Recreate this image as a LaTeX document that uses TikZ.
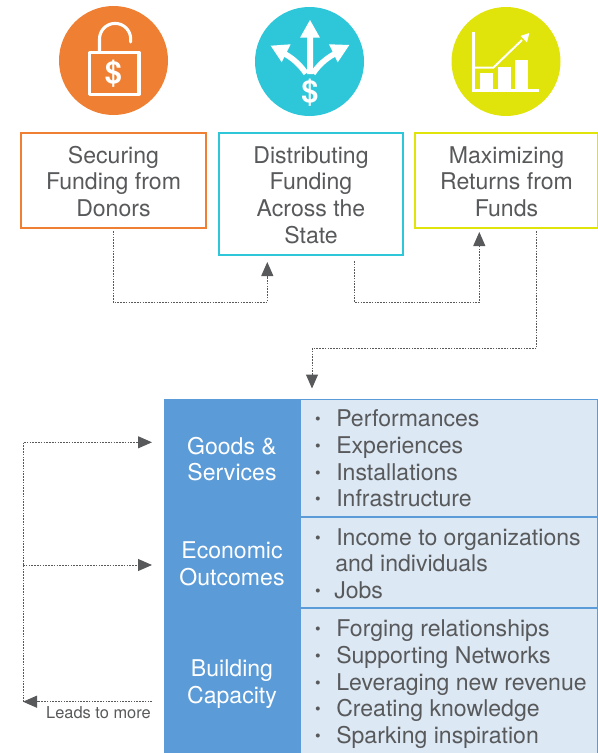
\documentclass[tikz,border=0pt]{standalone}
\usepackage{fontspec}
\setmainfont{TeX Gyre Heros}
\usetikzlibrary{arrows.meta}
\definecolor{ink}{HTML}{58595B}
\definecolor{orangeC}{HTML}{EF8033}
\definecolor{cyanC}{HTML}{2EC7D9}
\definecolor{limeC}{HTML}{E0E40A}
\definecolor{blueC}{HTML}{5B9BD8}
\definecolor{paleC}{HTML}{DCE8F4}
\tikzset{
  big/.style={font=\fontsize{17.3}{19.9}\selectfont, text=ink, align=center, inner sep=0pt},
  stagebox/.style={anchor=north west, big, outer sep=0pt, yshift=-0.75pt},
  edge1/.style={line width=0.8pt},
  hdr/.style={font=\fontsize{17.3}{20}\selectfont, text=white, align=center, inner sep=0pt},
  item/.style={font=\fontsize{17.3}{20}\selectfont, text=ink, anchor=base west, inner sep=0pt},
  bul/.style={font=\fontsize{12}{12}\selectfont, text=ink, anchor=base, inner sep=0pt},
  conn/.style={draw=ink, line width=0.75pt, dash pattern=on 1.2pt off 0.9pt},
  tip/.style={-{Triangle[length=10.5pt,width=9pt,color=ink,fill=ink]}},
  icon/.style={draw=white, line width=2.3pt},
  iconthin/.style={draw=white, line width=2pt},
}
\begin{document}
\begin{tikzpicture}[x=0.75pt,y=-0.75pt]
\useasboundingbox (0,0) rectangle (598,753);
% circles
\fill[orangeC] (113.5,60.5) circle (54.5);
\fill[cyanC] (309.5,61.5) circle (54.5);
\fill[limeC] (506,61.5) circle (54.5);
% lock icon
\draw[icon,line join=round] (89.5,52.3) rectangle (139,94.3);
\draw[icon,line cap=round] (99.5,52.3) -- (99.5,39) arc[start angle=180,end angle=360,radius=15.6] -- (130.7,42);
\node[font=\bfseries\fontsize{23}{23}\selectfont,text=white,inner sep=0pt] (dollarA) at (113.5,73.5) {\$};
% arrows icon
\fill[white] (300,37.7) -- (310,20) -- (320,37.7) -- (313,37.7) -- (313,74) -- (307,74) -- (307,37.7) -- cycle;
\draw[white,line width=4.2pt] (285,54) .. controls (294,59) and (301,66) .. (306,73.5);
\draw[white,line width=4.2pt] (334.5,54) .. controls (325,59) and (318,66) .. (313,73.5);
\fill[white] (270.7,45.7) -- (290.7,44.3) -- (281.7,62.3) -- cycle;
\fill[white] (349.3,45) -- (329,44.3) -- (337.7,62.3) -- cycle;
\node[font=\bfseries\fontsize{23}{23}\selectfont,text=white,inner sep=0pt] (dollarB) at (310,92.5) {\$};
% chart icon
\draw[iconthin] (473.3,31.7) -- (473.3,90.7) -- (539,90.7);
\draw[white,line width=1.5pt,line join=round] (473.3,67.7) -- (493.3,67.7) -- (522,40);
\fill[white] (529.3,33) -- (520.5,36) -- (527,42.5) -- cycle;
\fill[white] (480,72.7) rectangle (493.3,90);
\fill[white] (497.7,66.7) rectangle (511,90);
\fill[white] (515,60) rectangle (528.3,90);
% stage boxes
\node[stagebox,minimum width=138.75pt,minimum height=71.25pt] (boxA) at (21,133) {Securing\\Funding from\\Donors};
\node[stagebox,minimum width=138pt,minimum height=91.5pt] (boxB) at (219,133) {Distributing\\Funding\\Across the\\State};
\node[stagebox,minimum width=137.25pt,minimum height=71.25pt] (boxC) at (415,133) {Maximizing\\Returns from\\Funds};
\draw[edge1,color=orangeC] ([yshift=0.75pt]boxA.south west) rectangle ([yshift=0.75pt]boxA.north east);
\draw[edge1,color=cyanC] ([yshift=0.75pt]boxB.south west) rectangle ([yshift=0.75pt]boxB.north east);
\draw[edge1,color=limeC] ([yshift=0.75pt]boxC.south west) rectangle ([yshift=0.75pt]boxC.north east);
% table
\fill[blueC] (164,399) rectangle (301,753);
\fill[paleC] (301,399) rectangle (598,753);
\draw[blueC,line width=0.8pt] (301,399.4) -- (598,399.4) -- (598,753);
\draw[blueC,line width=0.8pt] (301,517) -- (598,517);
\draw[blueC,line width=0.8pt] (301,608) -- (598,608);
\node[hdr] (goods) at (232,459) {Goods \&\\Services};
\node[hdr] (econ) at (232,564) {Economic\\Outcomes};
\node[hdr] (cap) at (232,684) {Building\\Capacity};
\foreach \n/\x/\y/\t in {a/336/426/Performances,b/336/453/Experiences,c/336/480/Installations,d/336/506/Infrastructure,e/336/545/Income to organizations,f/335/571/and individuals,g/334/598/Jobs,h/336/636/Forging relationships,i/336/663/Supporting Networks,j/336/690/Leveraging new revenue,k/336/716/Creating knowledge,l/336/743/Sparking inspiration}
  \node[item] (item\n) at (\x,\y) {\t};
\foreach \n/\y in {a/424,b/451,c/478,d/504,e/543,g/596,h/634,i/661,j/688,k/714,l/741}
  \node[bul] (bul\n) at (318,\y) {•};
% connector ends
\coordinate (a1) at (113,231);
\coordinate (a2) at (267.3,262);
\coordinate (b1) at (354.3,261);
\coordinate (b2) at (479.3,232);
\coordinate (c1) at (536.7,231);
\coordinate (c2) at (312,388.5);
\coordinate (loopA) at (152,442.3);
\coordinate (loopB) at (152,565);
\coordinate (loopC) at (152,701.7);
\coordinate (loopD) at (23,701.7);
\draw[conn,tip] (a1) -- (a1 |- 0,302.3) -- (a2 |- 0,302.3) -- (a2);
\draw[conn,tip] (b1) -- (b1 |- 0,302.3) -- (b2 |- 0,302.3) -- (b2);
\draw[conn,tip] (c1) -- (c1 |- 0,348.3) -- (c2 |- 0,348.3) -- (c2);
\draw[conn,tip] (loopC) -- (loopD);
\draw[conn,tip] (loopD) -- (loopD |- loopA) -- (loopA);
\draw[conn,tip] (loopD |- loopB) -- (loopB);
\node[font=\fontsize{12.3}{13}\selectfont,text=ink,anchor=base east,inner sep=0pt] (leads) at (151,718.3) {Leads to more};
\end{tikzpicture}
\end{document}
